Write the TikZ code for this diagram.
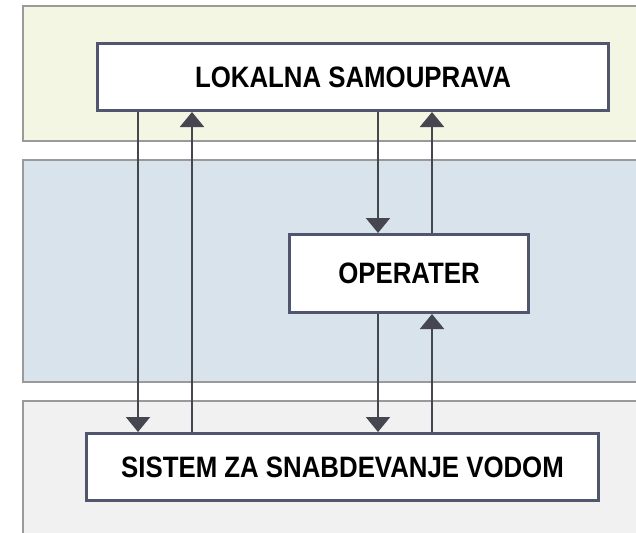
\documentclass[tikz,border=0pt]{standalone}
\usepackage{fontspec}
\setmainfont{Liberation Sans}[FakeStretch=0.875]
\usepackage{tikz}
\usetikzlibrary{arrows.meta,positioning}

\definecolor{bandyellow}{HTML}{F4F6E4}
\definecolor{bandblue}{HTML}{D9E3EB}
\definecolor{bandgray}{HTML}{F1F1F1}
\definecolor{bandline}{HTML}{9A9A9A}
\definecolor{boxline}{HTML}{50566E}
\definecolor{arrowcol}{HTML}{45464F}

\begin{document}
\begin{tikzpicture}[
    x=1pt, y=-1pt,
    band/.style={draw=bandline, line width=1.3pt},
    entity/.style={rectangle, draw=boxline, fill=white, line width=3pt, text centered, font=\bfseries\fontsize{29.5}{30}\selectfont},
    arrow/.style={-{Triangle[width=24pt,length=15pt]}, line width=2pt, arrowcol}
]
    \clip (0,0) rectangle (636,532);
    \fill[white] (0,0) rectangle (636,532);

    % layers
    \draw[band, fill=bandyellow] (23,6) rectangle (660,141);
    \draw[band, fill=bandblue] (23,160) rectangle (660,382);
    \draw[band, fill=bandgray] (23,401) rectangle (660,560);

    \node[entity, minimum width=511pt, minimum height=67pt] (lokalna) at (353,77) {LOKALNA SAMOUPRAVA};
    \node[entity, minimum width=239pt, minimum height=78pt] (operater) at (409,273.5) {OPERATER};
    \node[entity, minimum width=512pt, minimum height=67pt] (sistem) at (342.5,467) {SISTEM ZA SNABDEVANJE VODOM};

    % columns of the connectors
    \coordinate (c1) at (138,0);
    \coordinate (c2) at (192,0);
    \coordinate (c3) at (378,0);
    \coordinate (c4) at (432,0);

    \draw[arrow] (lokalna.south -| c1) -- (sistem.north -| c1);
    \draw[arrow] (sistem.north -| c2) -- (lokalna.south -| c2);
    \draw[arrow] (lokalna.south -| c3) -- (operater.north -| c3);
    \draw[arrow] (operater.north -| c4) -- (lokalna.south -| c4);
    \draw[arrow] (operater.south -| c3) -- (sistem.north -| c3);
    \draw[arrow] (sistem.north -| c4) -- (operater.south -| c4);
\end{tikzpicture}
\end{document}
